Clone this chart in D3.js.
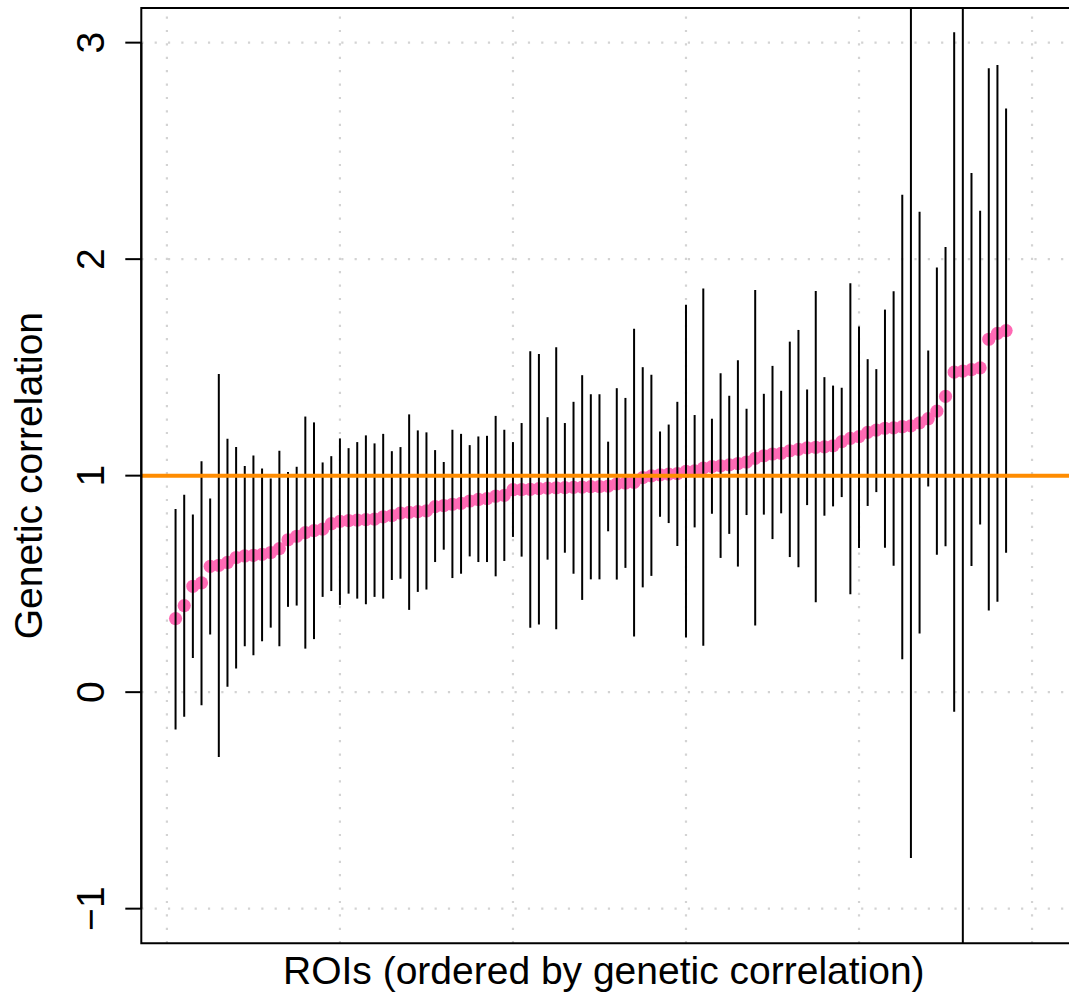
<!DOCTYPE html>
<html>
<head>
<meta charset="utf-8">
<script src="https://cdn.jsdelivr.net/npm/d3@7"></script>
<style>
  html, body { margin: 0; padding: 0; background: #fff; }
  svg { display: block; }
  text { font-family: "Liberation Sans", Arial, Helvetica, sans-serif; fill: #000; }
</style>
</head>
<body>
<script>
// Genetic correlation per ROI, sorted ascending, with 95% confidence limits
const estimate = [
  0.340, 0.400, 0.489, 0.505, 0.581, 0.586, 0.599, 0.622, 0.629, 0.632,
  0.636, 0.645, 0.663, 0.704, 0.720, 0.737, 0.746, 0.753, 0.778, 0.789,
  0.792, 0.795, 0.797, 0.799, 0.810, 0.816, 0.827, 0.830, 0.834, 0.837,
  0.857, 0.862, 0.868, 0.872, 0.883, 0.890, 0.894, 0.905, 0.909, 0.935,
  0.936, 0.937, 0.940, 0.942, 0.944, 0.945, 0.946, 0.947, 0.949, 0.950,
  0.952, 0.962, 0.966, 0.969, 0.991, 0.999, 1.004, 1.007, 1.009, 1.020,
  1.022, 1.035, 1.042, 1.045, 1.050, 1.056, 1.063, 1.080, 1.092, 1.100,
  1.103, 1.115, 1.121, 1.128, 1.131, 1.133, 1.138, 1.157, 1.172, 1.180,
  1.200, 1.210, 1.219, 1.221, 1.226, 1.230, 1.244, 1.263, 1.298, 1.366,
  1.478, 1.483, 1.490, 1.498, 1.630, 1.657, 1.670
];
const lower = [
  -0.172, -0.114, 0.158, -0.060, 0.266, -0.300, 0.025, 0.109, 0.212, 0.171,
  0.235, 0.298, 0.212, 0.394, 0.400, 0.201, 0.245, 0.440, 0.467, 0.403,
  0.455, 0.432, 0.406, 0.440, 0.432, 0.518, 0.524, 0.380, 0.463, 0.474,
  0.601, 0.658, 0.527, 0.547, 0.627, 0.601, 0.601, 0.535, 0.606, 0.717,
  0.626, 0.297, 0.312, 0.612, 0.291, 0.644, 0.547, 0.426, 0.521, 0.521,
  0.743, 0.520, 0.574, 0.257, 0.484, 0.537, 0.810, 0.781, 0.675, 0.252,
  0.761, 0.214, 0.824, 0.620, 0.731, 0.580, 0.818, 0.308, 0.820, 0.707,
  0.826, 0.624, 0.577, 0.864, 0.415, 0.815, 0.858, 0.901, 0.452, 0.666,
  0.860, 0.924, 0.667, 0.584, 0.152, -0.766, 0.271, 0.950, 0.635, 0.674,
  -0.090, -1.420, 0.583, 0.774, 0.377, 0.417, 0.644
];
const upper = [
  0.846, 0.912, 0.820, 1.066, 0.895, 1.470, 1.170, 1.132, 1.044, 1.093,
  1.033, 0.987, 1.115, 1.017, 1.041, 1.273, 1.246, 1.061, 1.090, 1.172,
  1.127, 1.155, 1.186, 1.149, 1.193, 1.113, 1.132, 1.283, 1.209, 1.200,
  1.118, 1.063, 1.212, 1.193, 1.141, 1.181, 1.184, 1.276, 1.212, 1.155,
  1.243, 1.575, 1.562, 1.270, 1.593, 1.243, 1.341, 1.464, 1.376, 1.376,
  1.157, 1.404, 1.359, 1.678, 1.501, 1.466, 1.204, 1.236, 1.341, 1.789,
  1.280, 1.864, 1.263, 1.473, 1.369, 1.533, 1.309, 1.858, 1.378, 1.507,
  1.392, 1.619, 1.673, 1.398, 1.853, 1.455, 1.416, 1.406, 1.889, 1.689,
  1.538, 1.492, 1.767, 1.852, 2.298, 3.226, 2.219, 1.578, 1.961, 2.056,
  3.048, 4.386, 2.398, 2.224, 2.882, 2.897, 2.696
];
const yTicks = [-1, 0, 1, 2, 3];
const yTickLabels = ["\u22121", "0", "1", "2", "3"];
const xGrid = [0, 20, 40, 60, 80, 100];
const reference = 1;

const W = 1069, H = 996;
const plot = { left: 141.3, top: 8, right: 1066.3, bottom: 943.3 };

// index axis: 1..n with a 4% pad either side of the [1, 100] limits
const xLim = [1, 100], yLim = [-1, 3];
const xPad = (xLim[1] - xLim[0]) * 0.04, yPad = (yLim[1] - yLim[0]) * 0.04;
const x = d3.scaleLinear().domain([xLim[0] - xPad, xLim[1] + xPad]).range([plot.left, plot.right]);
const y = d3.scaleLinear().domain([yLim[0] - yPad, yLim[1] + yPad]).range([plot.bottom, plot.top]);

const data = estimate.map((v, i) => ({ i: i + 1, est: v, lo: lower[i], hi: upper[i] }));

const svg = d3.select("body").append("svg").attr("width", W).attr("height", H);

svg.append("defs").append("clipPath").attr("id", "plot-clip")
  .append("rect")
  .attr("x", plot.left).attr("y", plot.top)
  .attr("width", W + 10 - plot.left).attr("height", plot.bottom - plot.top);

const inner = svg.append("g").attr("clip-path", "url(#plot-clip)");

// dotted grid
inner.append("g").selectAll("line").data(xGrid).join("line")
  .attr("x1", d => x(d)).attr("x2", d => x(d))
  .attr("y1", plot.bottom).attr("y2", plot.top)
  .attr("stroke", "#d3d3d3").attr("stroke-width", 2.2)
  .attr("stroke-dasharray", "2.2,11.2");
inner.append("g").selectAll("line").data(yTicks).join("line")
  .attr("x1", plot.left).attr("x2", W + 10)
  .attr("y1", d => y(d)).attr("y2", d => y(d))
  .attr("stroke", "#d3d3d3").attr("stroke-width", 2.2)
  .attr("stroke-dasharray", "2.2,11.13");

// point estimates
inner.append("g").selectAll("circle").data(data).join("circle")
  .attr("cx", d => x(d.i)).attr("cy", d => y(d.est))
  .attr("r", 6.6).attr("fill", "#ff69b4");

// confidence intervals
inner.append("g").selectAll("line").data(data).join("line")
  .attr("x1", d => x(d.i)).attr("x2", d => x(d.i))
  .attr("y1", d => y(d.lo)).attr("y2", d => y(d.hi))
  .attr("stroke", "#000").attr("stroke-width", 2);

// reference line at r_g = 1
inner.append("line")
  .attr("x1", plot.left).attr("x2", W + 10)
  .attr("y1", y(reference)).attr("y2", y(reference))
  .attr("stroke", "#ff8c00").attr("stroke-width", 4);

// frame (right side runs past the page edge)
svg.append("path")
  .attr("d", `M${W + 10},${plot.top}H${plot.left}V${plot.bottom}H${W + 10}`)
  .attr("fill", "none").attr("stroke", "#000").attr("stroke-width", 2);

// y axis
const yAxis = svg.append("g");
yAxis.append("line")
  .attr("x1", plot.left).attr("x2", plot.left)
  .attr("y1", y(yTicks[0])).attr("y2", y(yTicks[yTicks.length - 1]))
  .attr("stroke", "#000").attr("stroke-width", 2);
yAxis.selectAll("line.tick").data(yTicks).join("line")
  .attr("class", "tick")
  .attr("x1", plot.left - 16).attr("x2", plot.left)
  .attr("y1", d => y(d)).attr("y2", d => y(d))
  .attr("stroke", "#000").attr("stroke-width", 2);
yAxis.selectAll("text").data(yTicks).join("text")
  .attr("transform", d => `translate(104.3,${y(d)}) rotate(-90)`)
  .attr("text-anchor", "middle")
  .attr("font-size", 39)
  .text((d, i) => yTickLabels[i]);

// axis titles
svg.append("text")
  .attr("transform", `translate(41.5,${(plot.top + plot.bottom) / 2}) rotate(-90)`)
  .attr("text-anchor", "middle").attr("font-size", 39)
  .text("Genetic correlation");
svg.append("text")
  .attr("x", (plot.left + plot.right) / 2).attr("y", 984)
  .attr("text-anchor", "middle").attr("font-size", 39)
  .text("ROIs (ordered by genetic correlation)");
</script>
</body>
</html>
